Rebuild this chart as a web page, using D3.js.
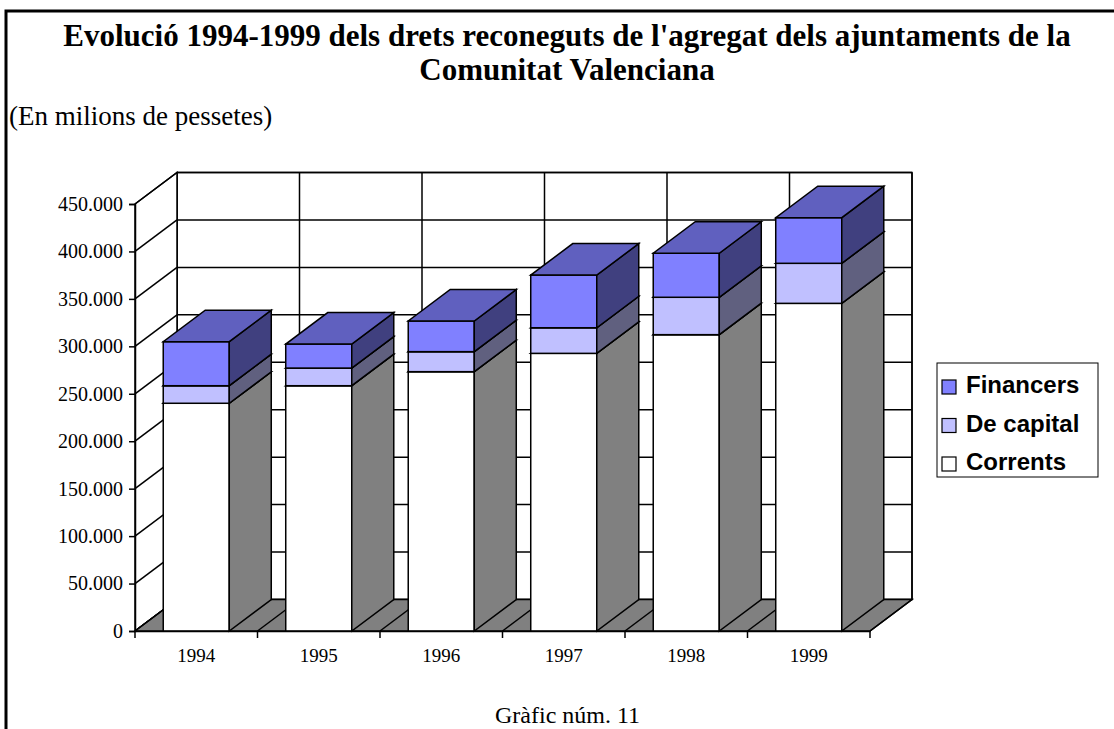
<!DOCTYPE html>
<html>
<head>
<meta charset="utf-8">
<script src="https://cdn.jsdelivr.net/npm/d3@7"></script>
<style>
  body { margin: 0; background: #fff; }
  svg { display: block; }
</style>
</head>
<body>
<script>
// Data (millions of pesetas)
const years = ["1994", "1995", "1996", "1997", "1998", "1999"];
const corrents = [240000, 258500, 273300, 292600, 312300, 345300];
const deCapital = [18500, 18600, 21100, 27000, 39400, 42200];
const financers = [46400, 25300, 32300, 55500, 46400, 48100];
const seriesNames = ["Corrents", "De capital", "Financers"];
const yTicks = [0, 50000, 100000, 150000, 200000, 250000, 300000, 350000, 400000, 450000];

const frontColor = { "Corrents": "#ffffff", "De capital": "#c0c0ff", "Financers": "#8080ff" };
const sideColor = { "Corrents": "#808080", "De capital": "#60607f", "Financers": "#40407f" };
const topColor = { "Corrents": "#bfbfbf", "De capital": "#9090bf", "Financers": "#6060bf" };

const W = 1114, H = 729;
const dx = 42, dy = -31.5; // depth offset of the 3d box
const serif = "'Liberation Serif', 'Times New Roman', serif";
const sans = "'Liberation Sans', Arial, sans-serif";

const fmt = d3.formatLocale({ decimal: ",", thousands: ".", grouping: [3], currency: ["", ""] }).format(",");

const svg = d3.select("body").append("svg").attr("width", W).attr("height", H);

// outer frame (cut by the window on the right and bottom)
svg.append("path")
  .attr("d", "M6,740 V11 H1120")
  .attr("fill", "none").attr("stroke", "#000").attr("stroke-width", 3);

// titles
svg.append("text").attr("x", 567).attr("y", 46).attr("text-anchor", "middle")
  .style("font-family", serif).style("font-weight", "bold").style("font-size", "31px")
  .text("Evolució 1994-1999 dels drets reconeguts de l'agregat dels ajuntaments de la");
svg.append("text").attr("x", 567).attr("y", 80).attr("text-anchor", "middle")
  .style("font-family", serif).style("font-weight", "bold").style("font-size", "31px")
  .text("Comunitat Valenciana");
svg.append("text").attr("x", 9).attr("y", 125)
  .style("font-family", serif).style("font-size", "27px")
  .text("(En milions de pessetes)");

const y = d3.scaleLinear().domain([0, 450000]).range([631, 204]);
const x = d3.scaleBand().domain(years).range([135, 870]).paddingInner(0.461).paddingOuter(0.2305);
const step = x.step();
const left = x.range()[0], right = x.range()[1];
const bounds = d3.range(years.length + 1).map(i => left + i * step);

const chart = svg.append("g").attr("stroke", "#000").attr("stroke-width", 1.5);

// back wall
chart.append("rect")
  .attr("x", left + dx).attr("y", y(450000) + dy)
  .attr("width", right - left).attr("height", y(0) - y(450000))
  .attr("fill", "#fff");
chart.selectAll(".hgrid").data(yTicks).enter().append("line")
  .attr("x1", left + dx).attr("x2", right + dx)
  .attr("y1", d => y(d) + dy).attr("y2", d => y(d) + dy);
chart.selectAll(".vgrid").data(bounds).enter().append("line")
  .attr("x1", d => d + dx).attr("x2", d => d + dx)
  .attr("y1", y(0) + dy).attr("y2", y(450000) + dy);

// left wall
chart.append("polygon")
  .attr("points", [[left, y(450000)], [left + dx, y(450000) + dy], [left + dx, y(0) + dy], [left, y(0)]].join(" "))
  .attr("fill", "#fff");
chart.selectAll(".sgrid").data(yTicks).enter().append("line")
  .attr("x1", left).attr("x2", left + dx)
  .attr("y1", d => y(d)).attr("y2", d => y(d) + dy);

// floor
chart.append("polygon")
  .attr("points", [[left, y(0)], [right, y(0)], [right + dx, y(0) + dy], [left + dx, y(0) + dy]].join(" "))
  .attr("fill", "#808080");
chart.selectAll(".fgrid").data(bounds).enter().append("line")
  .attr("x1", d => d).attr("x2", d => d + dx)
  .attr("y1", y(0)).attr("y2", y(0) + dy);

// bars
const rows = years.map((yr, i) => ({
  year: yr, "Corrents": corrents[i], "De capital": deCapital[i], "Financers": financers[i]
}));
const stacked = d3.stack().keys(seriesNames)(rows);
const segs = years.map((yr, i) => stacked.map(s => ({ key: s.key, year: yr, v0: s[i][0], v1: s[i][1] })));

const barG = chart.selectAll(".bar").data(segs).enter().append("g");
const seg = barG.selectAll("g").data(d => d).enter().append("g");
seg.append("rect")
  .attr("x", d => x(d.year)).attr("y", d => y(d.v1))
  .attr("width", x.bandwidth()).attr("height", d => y(d.v0) - y(d.v1))
  .attr("fill", d => frontColor[d.key]);
seg.append("polygon")
  .attr("points", d => {
    const x1 = x(d.year) + x.bandwidth();
    return [[x1, y(d.v1)], [x1 + dx, y(d.v1) + dy], [x1 + dx, y(d.v0) + dy], [x1, y(d.v0)]].join(" ");
  })
  .attr("fill", d => sideColor[d.key]);
seg.append("polygon")
  .attr("points", d => {
    const x0 = x(d.year), x1 = x0 + x.bandwidth();
    return [[x0, y(d.v1)], [x1, y(d.v1)], [x1 + dx, y(d.v1) + dy], [x0 + dx, y(d.v1) + dy]].join(" ");
  })
  .attr("fill", d => topColor[d.key]);

// y axis
const yAxis = svg.append("g").attr("transform", `translate(${left},0)`)
  .call(d3.axisLeft(y).tickValues(yTicks).tickFormat(fmt).tickSize(6).tickPadding(6));
yAxis.select(".domain").attr("stroke-width", 1.5);
yAxis.selectAll(".tick line").attr("stroke-width", 1.5);
yAxis.selectAll("text").style("font-family", serif).style("font-size", "20px").attr("fill", "#000");

// x axis
const xAxis = svg.append("g").attr("transform", `translate(0,${y(0)})`)
  .call(d3.axisBottom(x).tickSize(0).tickPadding(18));
xAxis.select(".domain").attr("stroke-width", 1.5);
xAxis.selectAll("text").style("font-family", serif).style("font-size", "19px").attr("fill", "#000");
xAxis.selectAll(".bound").data(bounds).enter().append("line")
  .attr("x1", d => d).attr("x2", d => d).attr("y1", 0).attr("y2", 7)
  .attr("stroke", "#000").attr("stroke-width", 1.5);

// legend
const legend = svg.append("g").attr("transform", "translate(937,363)");
legend.append("rect").attr("width", 161).attr("height", 114)
  .attr("fill", "#fff").attr("stroke", "#000").attr("stroke-width", 1);
const legendItems = seriesNames.slice().reverse();
const li = legend.selectAll(".item").data(legendItems).enter().append("g")
  .attr("transform", (d, i) => `translate(0,${30 + i * 38.5})`);
li.append("rect").attr("x", 5).attr("y", -13).attr("width", 14).attr("height", 14)
  .attr("fill", d => frontColor[d]).attr("stroke", "#000").attr("stroke-width", 1.2);
li.append("text").attr("x", 29).attr("y", 0)
  .style("font-family", sans).style("font-weight", "bold").style("font-size", "24px")
  .text(d => d);

// caption
svg.append("text").attr("x", 495).attr("y", 723)
  .style("font-family", serif).style("font-size", "24px")
  .text("Gràfic núm. 11");
</script>
</body>
</html>
